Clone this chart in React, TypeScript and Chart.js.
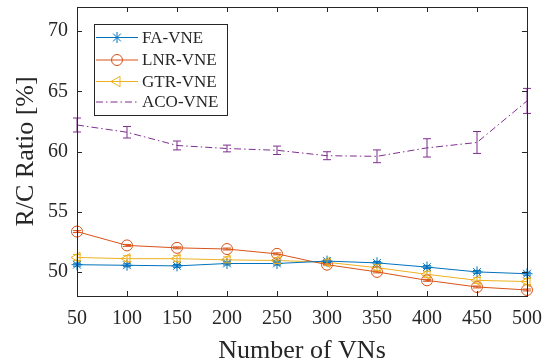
import React, { useEffect, useRef } from "react";
import { Chart, registerables } from "chart.js";
import { drawPoint } from "chart.js/helpers";

Chart.register(...registerables);

// ---- data ----
const vnCounts = [50, 100, 150, 200, 250, 300, 350, 400, 450, 500];
const faVne = [50.6, 50.55, 50.5, 50.7, 50.7, 50.9, 50.75, 50.4, 50.0, 49.85];
const lnrVne = [53.35, 52.2, 52.0, 51.9, 51.5, 50.6, 50.0, 49.3, 48.75, 48.5];
const gtrVne = [51.2, 51.1, 51.1, 51.0, 50.95, 50.8, 50.35, 49.8, 49.3, 49.2];
const acoVne = [62.2, 61.6, 60.5, 60.25, 60.1, 59.65, 59.6, 60.3, 60.75, 64.2];
const faErr = [0.12, 0.12, 0.12, 0.12, 0.12, 0.12, 0.12, 0.12, 0.12, 0.12];
const lnrErr = [0.08, 0.08, 0.08, 0.08, 0.08, 0.08, 0.08, 0.08, 0.08, 0.08];
const gtrErr = [0.25, 0.25, 0.25, 0.25, 0.25, 0.25, 0.25, 0.25, 0.25, 0.25];
const acoErr = [0.58, 0.48, 0.37, 0.28, 0.35, 0.33, 0.53, 0.76, 0.91, 1.04];
const xTickValues = [50, 100, 150, 200, 250, 300, 350, 400, 450, 500];
const yTickValues = [50, 55, 60, 65, 70];
const seriesLabels = ["FA-VNE", "LNR-VNE", "GTR-VNE", "ACO-VNE"];

const FONT = "'Liberation Serif', 'Times New Roman', serif";
const AXIS_COLOR = "#262626";
const COLORS = ["#0072BD", "#D95319", "#EDB120", "#7E2F8E"];

const toPoints = (ys: number[]) => vnCounts.map((x, i) => ({ x, y: ys[i] }));

const errorBarPlugin = {
  id: "errorBars",
  afterDatasetsDraw(chart: any) {
    const ctx = chart.ctx;
    const xs = chart.scales.x;
    const ys = chart.scales.y;
    chart.data.datasets.forEach((ds: any) => {
      const errs: number[] = ds.errors;
      if (!errs) return;
      ctx.save();
      ctx.strokeStyle = ds.borderColor;
      ctx.lineWidth = 1;
      ctx.setLineDash([]);
      ds.data.forEach((p: any, i: number) => {
        const x = xs.getPixelForValue(p.x);
        const yt = ys.getPixelForValue(p.y + errs[i]);
        const yb = ys.getPixelForValue(p.y - errs[i]);
        const cap = 4;
        ctx.beginPath();
        ctx.moveTo(x, yt);
        ctx.lineTo(x, yb);
        ctx.moveTo(x - cap, yt);
        ctx.lineTo(x + cap, yt);
        ctx.moveTo(x - cap, yb);
        ctx.lineTo(x + cap, yb);
        ctx.stroke();
      });
      ctx.restore();
    });
  },
};

const boxAxesPlugin = {
  id: "boxAxes",
  afterDraw(chart: any) {
    const ctx = chart.ctx;
    const { left, right, top, bottom } = chart.chartArea;
    const xs = chart.scales.x;
    const ys = chart.scales.y;
    ctx.save();
    ctx.strokeStyle = AXIS_COLOR;
    ctx.lineWidth = 1;
    ctx.setLineDash([]);
    ctx.strokeRect(Math.round(left) + 0.5, Math.round(top) + 0.5, Math.round(right - left), Math.round(bottom - top));
    const tl = 5;
    ctx.beginPath();
    xTickValues.forEach((v) => {
      const x = Math.round(xs.getPixelForValue(v)) + 0.5;
      ctx.moveTo(x, bottom);
      ctx.lineTo(x, bottom - tl);
      ctx.moveTo(x, top);
      ctx.lineTo(x, top + tl);
    });
    yTickValues.forEach((v) => {
      const y = Math.round(ys.getPixelForValue(v)) + 0.5;
      ctx.moveTo(left, y);
      ctx.lineTo(left + tl, y);
      ctx.moveTo(right, y);
      ctx.lineTo(right - tl, y);
    });
    ctx.stroke();
    ctx.restore();
  },
};

const legendBoxPlugin = {
  id: "legendBox",
  afterDraw(chart: any) {
    const ctx = chart.ctx;
    const bx = 94, by = 24, bw = 133, bh = 91;
    ctx.save();
    ctx.fillStyle = "#ffffff";
    ctx.fillRect(bx, by, bw, bh);
    ctx.strokeStyle = AXIS_COLOR;
    ctx.lineWidth = 1;
    ctx.strokeRect(bx + 0.5, by + 0.5, bw, bh);
    const rowY = [37.5, 60, 81.5, 102];
    chart.data.datasets.forEach((ds: any, i: number) => {
      const y = rowY[i];
      ctx.strokeStyle = ds.borderColor;
      ctx.lineWidth = 1;
      ctx.setLineDash(ds.borderDash || []);
      ctx.beginPath();
      ctx.moveTo(96, y);
      ctx.lineTo(138, y);
      ctx.stroke();
      ctx.setLineDash([]);
      if (ds.pointRadius > 0) {
        ctx.strokeStyle = ds.pointBorderColor;
        ctx.fillStyle = "rgba(0,0,0,0)";
        drawPoint(
          ctx,
          {
            pointStyle: ds.pointStyle,
            rotation: ds.pointRotation || 0,
            radius: ds.pointRadius,
            borderWidth: 1,
          },
          117,
          y
        );
      }
      ctx.fillStyle = AXIS_COLOR;
      ctx.font = `17px ${FONT}`;
      ctx.textBaseline = "middle";
      ctx.textAlign = "left";
      ctx.fillText(ds.label, 142, y + 1);
    });
    ctx.restore();
  },
};

export default function App() {
  const ref = useRef<HTMLCanvasElement>(null);

  useEffect(() => {
    if (!ref.current) return;
    const mk = (
      idx: number,
      ys: number[],
      errs: number[],
      extra: any
    ) => ({
      label: seriesLabels[idx],
      data: toPoints(ys),
      errors: errs,
      borderColor: COLORS[idx],
      backgroundColor: COLORS[idx],
      pointBorderColor: COLORS[idx],
      pointBackgroundColor: "rgba(0,0,0,0)",
      borderWidth: 1,
      pointBorderWidth: 1,
      tension: 0,
      clip: false,
      ...extra,
    });
    const chart = new Chart(ref.current, {
      type: "line",
      data: {
        datasets: [
          mk(0, faVne, faErr, { pointStyle: "star", pointRadius: 5.5 }),
          mk(1, lnrVne, lnrErr, { pointStyle: "circle", pointRadius: 5.5 }),
          mk(2, gtrVne, gtrErr, { pointStyle: "triangle", pointRotation: -90, pointRadius: 6 }),
          mk(3, acoVne, acoErr, { pointRadius: 0, borderDash: [7, 3, 1.5, 3] }),
        ] as any,
      },
      options: {
        responsive: false,
        animation: false,
        events: [],
        layout: { padding: { top: 7, right: 26, bottom: 0, left: 0 } },
        plugins: { legend: { display: false }, tooltip: { enabled: false } },
        scales: {
          x: {
            type: "linear",
            min: 50,
            max: 500,
            afterBuildTicks: (s: any) => {
              s.ticks = xTickValues.map((v) => ({ value: v }));
            },
            afterFit: (s: any) => {
              s.height = 68;
              s.paddingLeft = 0;
              s.paddingRight = 0;
            },
            grid: { display: false, drawTicks: false },
            border: { display: false },
            ticks: {
              font: { family: FONT, size: 20 },
              color: AXIS_COLOR,
              padding: 11,
              maxRotation: 0,
              autoSkip: false,
            },
            title: {
              display: true,
              text: "Number of VNs",
              font: { family: FONT, size: 26, lineHeight: 1.0 },
              color: AXIS_COLOR,
              padding: { top: 0, bottom: 0 },
            },
          },
          y: {
            type: "linear",
            min: 48,
            max: 72,
            afterBuildTicks: (s: any) => {
              s.ticks = yTickValues.map((v) => ({ value: v }));
            },
            afterFit: (s: any) => {
              s.width = 77;
              s.paddingTop = 0;
              s.paddingBottom = 0;
            },
            grid: { display: false, drawTicks: false },
            border: { display: false },
            ticks: {
              font: { family: FONT, size: 20 },
              color: AXIS_COLOR,
              padding: 9,
              autoSkip: false,
            },
            title: {
              display: true,
              text: "R/C Ratio [%]",
              font: { family: FONT, size: 26 },
              color: AXIS_COLOR,
              padding: { top: 11, bottom: 0 },
            },
          },
        },
      } as any,
      plugins: [errorBarPlugin, boxAxesPlugin, legendBoxPlugin],
    });
    return () => chart.destroy();
  }, []);

  return (
    <div style={{ position: "absolute", left: 0, top: 0, width: 553, height: 364, background: "#fff" }}>
      <canvas ref={ref} width={553} height={364} style={{ display: "block" }} />
    </div>
  );
}
